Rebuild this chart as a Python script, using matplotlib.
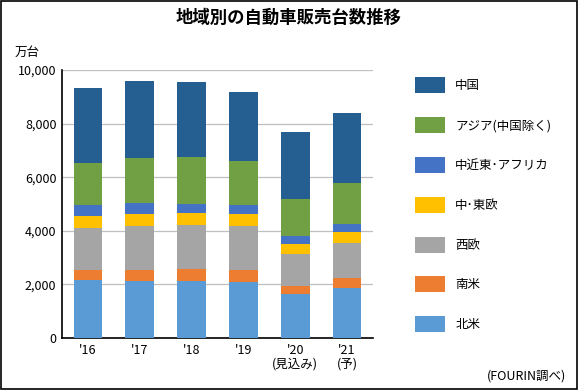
import matplotlib
matplotlib.use("Agg")
import matplotlib.pyplot as plt
from matplotlib.patches import Rectangle
import numpy as np

plt.rcParams['font.family'] = ['Noto Sans CJK JP', 'DejaVu Sans']

years = ["'16", "'17", "'18", "'19", "'20\n(見込み)", "'21\n(予)"]
regions = ['北米', '南米', '西欧', '中･東欧', '中近東･アフリカ', 'アジア(中国除く)', '中国']
colors = ['#5B9BD5', '#ED7D31', '#A5A5A5', '#FFC000', '#4472C4', '#70A043', '#255E91']

north_america = [2150, 2115, 2115, 2080, 1655, 1880]
south_america = [375, 410, 450, 450, 275, 350]
west_europe = [1595, 1645, 1645, 1640, 1195, 1305]
central_east_europe = [435, 450, 450, 450, 375, 410]
middle_east_africa = [400, 410, 335, 335, 300, 300]
asia_ex_china = [1570, 1680, 1755, 1645, 1380, 1530]
china = [2800, 2875, 2800, 2575, 2500, 2615]

series = [north_america, south_america, west_europe, central_east_europe,
          middle_east_africa, asia_ex_china, china]

fig = plt.figure(figsize=(5.78, 3.9), dpi=100)
ax = fig.add_axes([62 / 578, 1 - 338 / 390, 311 / 578, 268 / 390])

x = np.arange(len(years))
bottom = np.zeros(len(years))
handles = []
for vals, col, name in zip(series, colors, regions):
    b = ax.bar(x, vals, 0.55, bottom=bottom, color=col, label=name, zorder=3)
    handles.append(b)
    bottom += np.array(vals)

ax.set_xlim(-0.5, 5.5)
ax.set_ylim(0, 10000)
ax.set_yticks(range(0, 10001, 2000))
ax.set_yticklabels([f'{v:,}' for v in range(0, 10001, 2000)], fontsize=9)
ax.set_xticks(x)
ax.set_xticklabels(years, fontsize=9, linespacing=1.1)
ax.tick_params(axis='both', length=0, pad=4)
ax.yaxis.grid(True, color='#BFBFBF', linewidth=0.9, zorder=0)
ax.spines['top'].set_visible(False)
ax.spines['right'].set_visible(False)
for s in ['left', 'bottom']:
    ax.spines[s].set_color('black')
    ax.spines[s].set_linewidth(1.2)

fig.text(0.5, 1 - 18 / 390, '地域別の自動車販売台数推移', ha='center', va='center',
         fontsize=12.5, fontweight='bold')
fig.text(15 / 578, 1 - 52 / 390, '万台', ha='left', va='center', fontsize=9)
fig.text(566 / 578, 1 - 376 / 390, '(FOURIN調べ)', ha='right', va='center', fontsize=9)

fig.legend(handles[::-1], regions[::-1], loc='upper left',
           bbox_to_anchor=(404 / 578, 1 - 66 / 390), frameon=False, fontsize=9,
           handlelength=2.4, handleheight=1.6, labelspacing=1.9, handletextpad=0.8)

fig.patches.append(Rectangle((0.002, 0.003), 0.996, 0.994, transform=fig.transFigure,
                             fill=False, edgecolor='black', linewidth=1.2))

fig.savefig('out.png', dpi=100)
